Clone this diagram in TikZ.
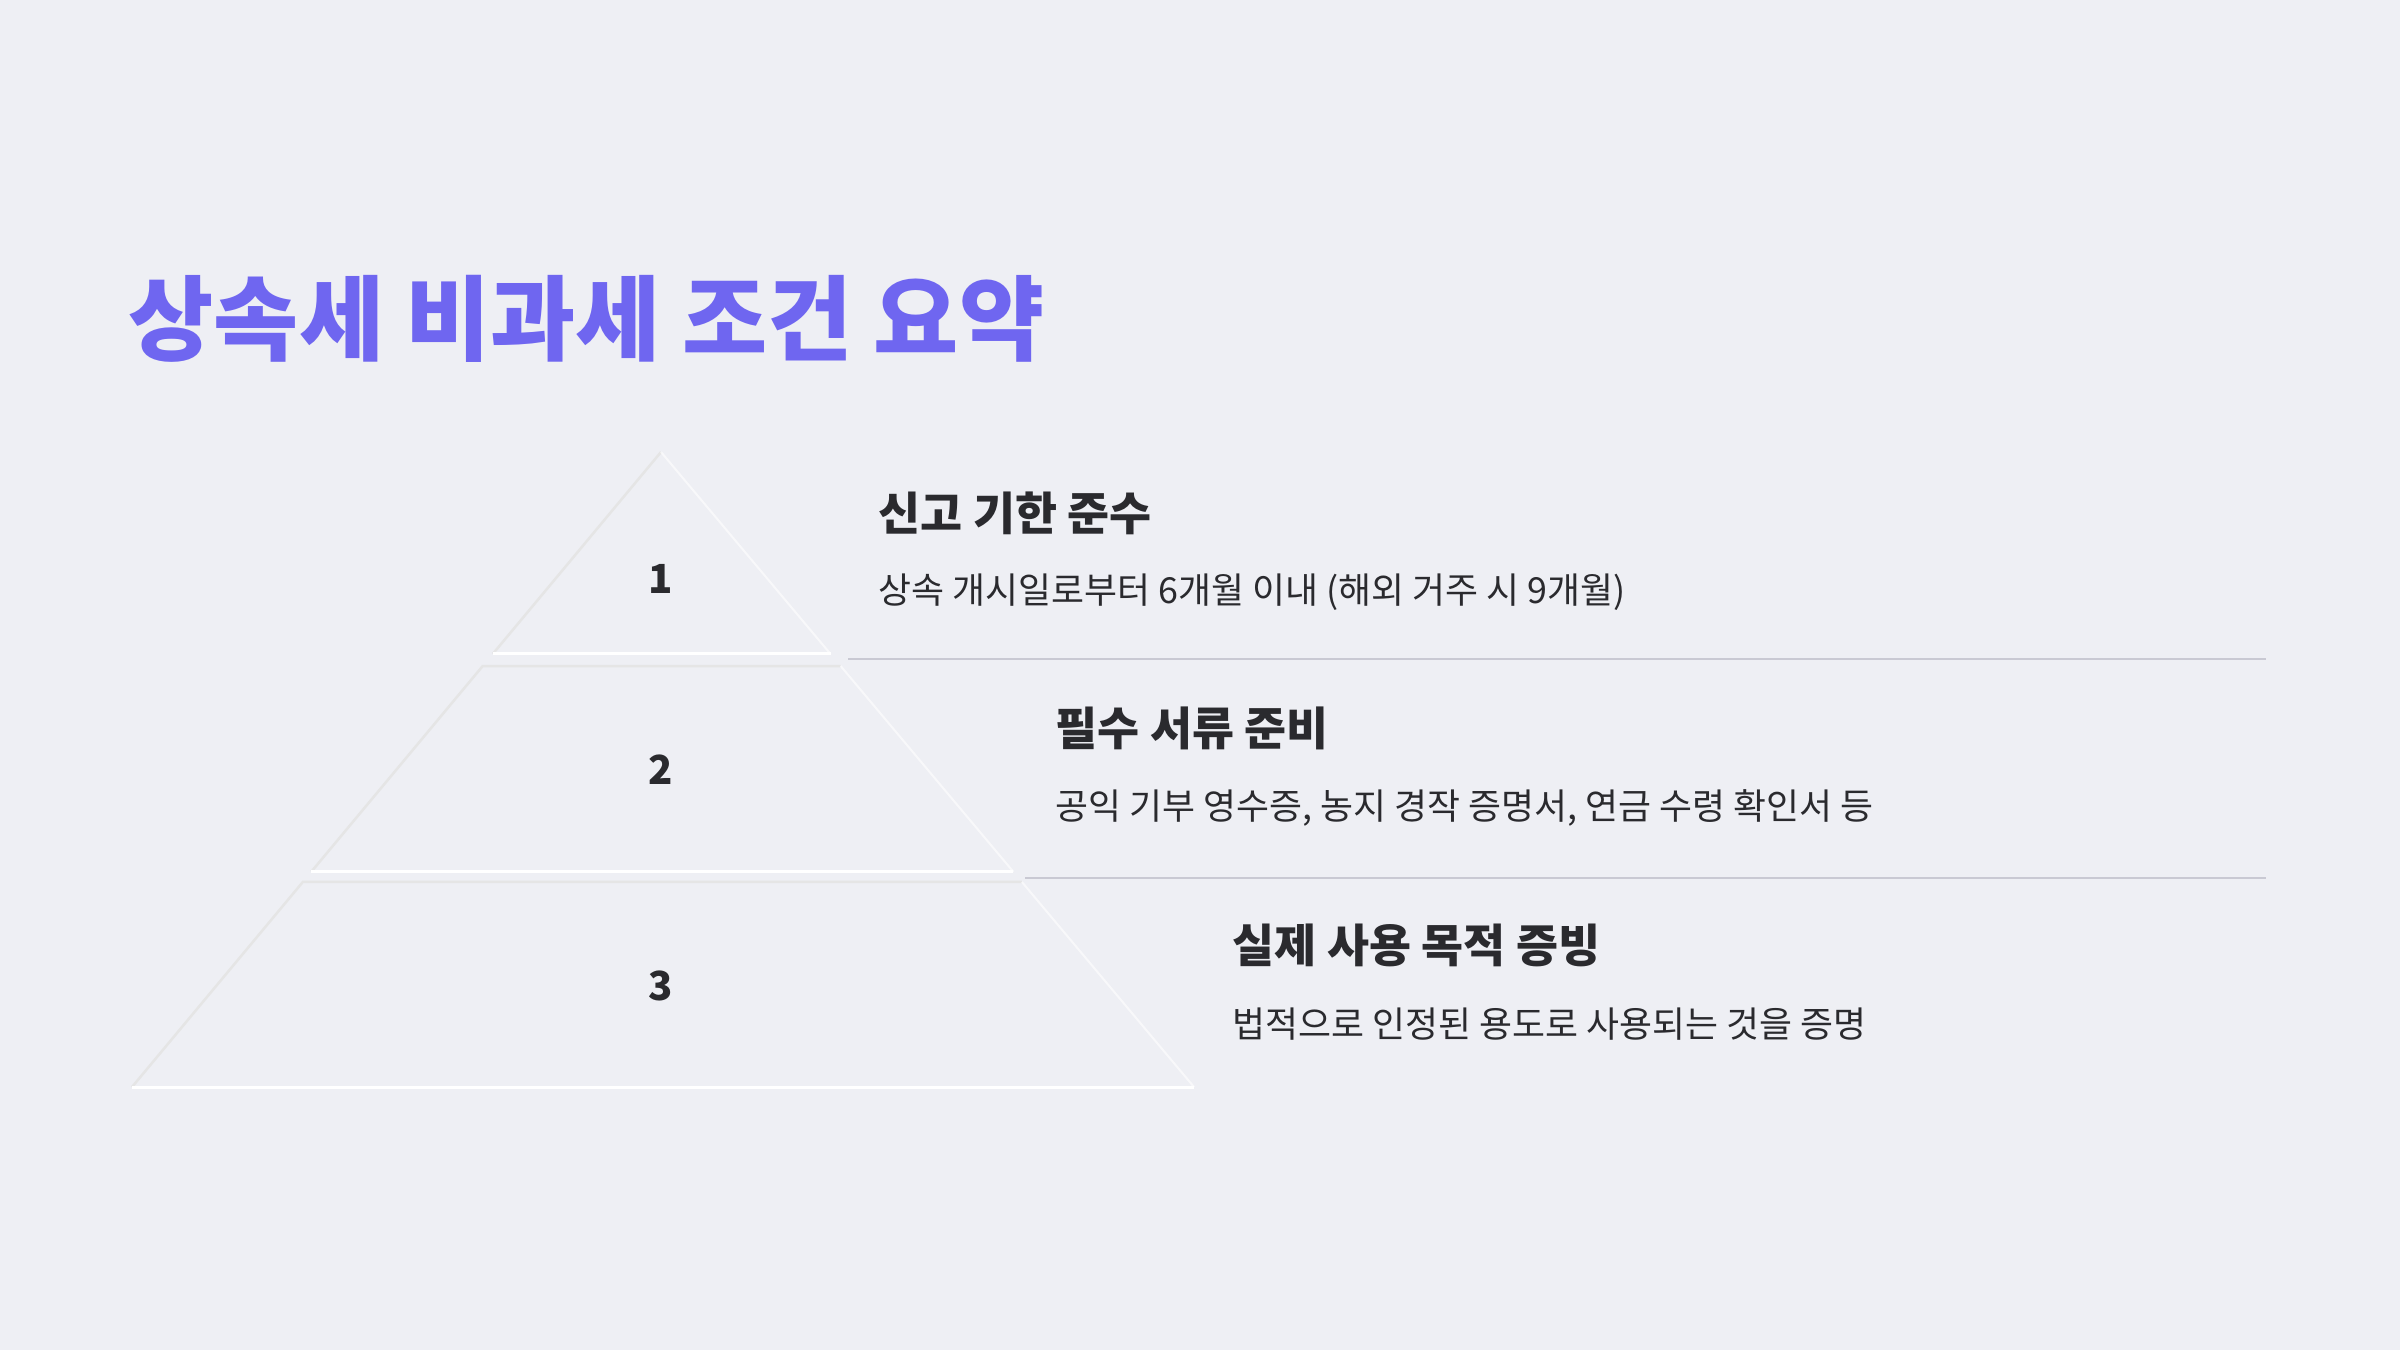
\documentclass[tikz,border=0pt]{standalone}
\usepackage{fontspec}
\setmainfont{Noto Sans CJK KR}
\usetikzlibrary{calc}
\definecolor{fundo}{HTML}{EEEFF4}
\definecolor{roxo}{HTML}{6F66F0}
\definecolor{texto}{HTML}{2A2A2E}
\definecolor{linha}{HTML}{C9C9D3}
\tikzset{
  titulo/.style={anchor=west, inner sep=0pt, text=roxo, font=\fontsize{26.35}{32}\selectfont\bfseries},
  nivel/.style={inner sep=0pt, text=texto, font=\fontsize{11.4}{14}\selectfont\bfseries},
  rotulo/.style={anchor=west, inner sep=0pt, text=texto, font=\fontsize{13}{16}\selectfont\bfseries},
  descricao/.style={anchor=west, inner sep=0pt, text=texto, font=\fontsize{10.2}{13}\selectfont},
  divisoria/.style={draw=linha, line width=0.02cm},
  sombra/.style={draw=black!10, line width=0.025cm},
  brilho/.style={draw=white, line width=0.03cm},
  brilhoLado/.style={draw=white, line width=0.02cm, draw opacity=0.6},
}
\begin{document}
\begin{tikzpicture}
  % fundo e limites
  \fill[fundo] (0,0) rectangle (24,13.5);
  \useasboundingbox (0,0) rectangle (24,13.5);
  % titulo
  \node[titulo] (titulo) at (1.28,10.315) {상속세 비과세 조건 요약};
  % piramide (tres niveis)
  \coordinate (topo) at (6.61,8.98);
  \coordinate (baseE) at (1.32,2.63);
  \coordinate (baseD) at (11.94,2.63);
  \foreach \a/\b/\n in {0/0.318/1, 0.337/0.661/2, 0.677/1/3}{
    \coordinate (e\n a) at ($(topo)!\a!(baseE)$);
    \coordinate (d\n a) at ($(topo)!\a!(baseD)$);
    \coordinate (e\n b) at ($(topo)!\b!(baseE)$);
    \coordinate (d\n b) at ($(topo)!\b!(baseD)$);
    \fill[fundo] (e\n a) -- (d\n a) -- (d\n b) -- (e\n b) -- cycle;
    \draw[sombra] (e\n b) -- (e\n a) -- (d\n a);
    \draw[brilhoLado] (d\n a) -- (d\n b);
    \draw[brilho] (d\n b) -- (e\n b);
  }
  % numeros dos niveis
  \node[nivel] (n1) at (6.61,7.71) {1};
  \node[nivel] (n2) at (6.61,5.80) {2};
  \node[nivel] (n3) at (6.61,3.64) {3};
  % nivel 1
  \node[rotulo] (r1) at (8.78,8.37) {신고 기한 준수};
  \node[descricao] (s1) at (8.78,7.58) {상속 개시일로부터 6개월 이내 (해외 거주 시 9개월)};
  % nivel 2
  \node[rotulo] (r2) at (10.55,6.22) {필수 서류 준비};
  \node[descricao] (s2) at (10.55,5.42) {공익 기부 영수증, 농지 경작 증명서, 연금 수령 확인서 등};
  % nivel 3
  \node[rotulo] (r3) at (12.32,4.05) {실제 사용 목적 증빙};
  \node[descricao] (s3) at (12.32,3.26) {법적으로 인정된 용도로 사용되는 것을 증명};
  % linhas divisorias
  \coordinate (l1a) at (8.48,6.91);
  \coordinate (l1b) at (22.66,6.91);
  \coordinate (l2a) at (10.25,4.72);
  \coordinate (l2b) at (22.66,4.72);
  \draw[divisoria] (l1a) -- (l1b);
  \draw[divisoria] (l2a) -- (l2b);
\end{tikzpicture}
\end{document}
